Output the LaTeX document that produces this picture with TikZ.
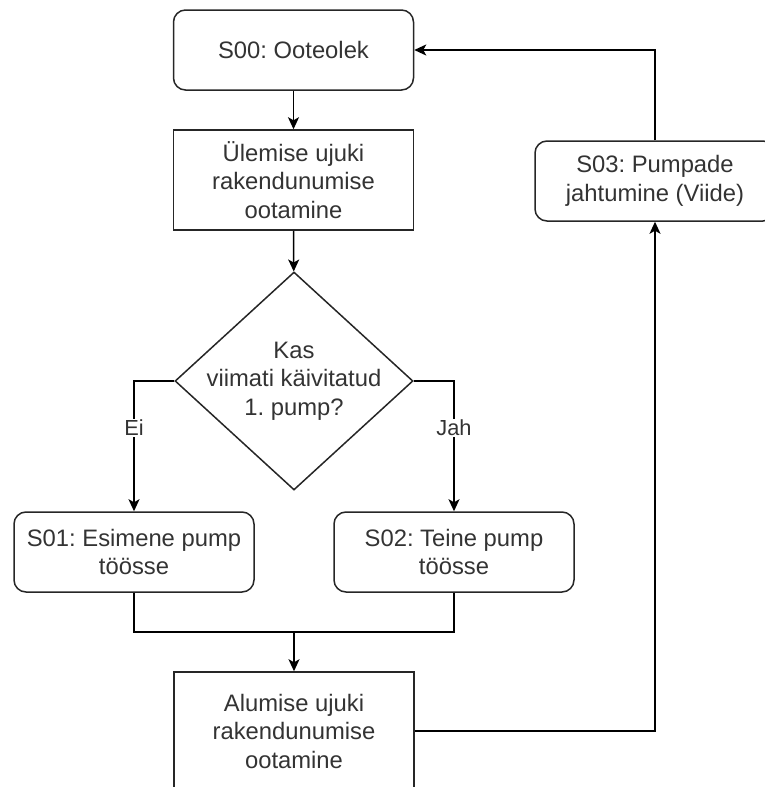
\documentclass[tikz,border=0pt]{standalone}
\usepackage{fontspec}
\setmainfont{Liberation Sans}
\usetikzlibrary{arrows.meta,shapes.geometric,positioning}
\frenchspacing

\begin{document}
\begin{tikzpicture}[x=1pt,y=-1pt,>={Stealth[length=12pt,width=11pt,inset=3pt]},line width=1.5pt]
  \tikzset{every node/.style={font=\fontsize{23.8}{28.5}\selectfont,text=black!80,align=center},
    state/.style={draw=black!85,rounded corners=12pt,minimum width=240pt,minimum height=80pt,inner sep=0pt},
    wait/.style={draw=black!85,minimum width=240pt,inner sep=0pt},
    decision/.style={draw=black!85,diamond,minimum width=238pt,minimum height=218pt,inner sep=0pt},
    edgelabel/.style={fill=white,inner sep=1pt,font=\fontsize{21.8}{26}\selectfont}}
  \useasboundingbox (0,0) rectangle (765,787);
  \clip (0,0) rectangle (765,787);
  \node[state] (s00) at (293.5,50) {S00: Ooteolek};
  \node[wait,minimum height=100pt] (wait1) at (293.5,180) {Ülemise ujuki\\rakendunumise\\ootamine};
  \node[decision] (dec) at (294,381) {};
  \node (dectext) at (dec.center) {Kas\\viimati käivitatud\\1. pump?};
  \node[state] (s01) at (134,552) {S01: Esimene pump\\töösse};
  \node[state] (s02) at (454,552) {S02: Teine pump\\töösse};
  \coordinate (join) at (294,632);
  \node[wait,minimum height=118pt] (wait2) at (294,731) {Alumise ujuki\\rakendunumise\\ootamine};
  \node[state] (s03) at (655,181) {S03: Pumpade\\jahtumine (Viide)};
  \draw[->] (s00) -- (wait1);
  \draw[->] (wait1) -- (dec);
  \draw[->] (dec.west) -| node[edgelabel,pos=0.68] (ei) {Ei} (s01.north);
  \draw[->] (dec.east) -| node[edgelabel,pos=0.68] (jah) {Jah} (s02.north);
  \draw (s01.south) |- (join) -| (s02.south);
  \draw[->] (join) -- (wait2);
  \draw[->] (wait2.east) -| (s03.south);
  \draw[->] (s03.north) |- (s00.east);
\end{tikzpicture}
\end{document}
